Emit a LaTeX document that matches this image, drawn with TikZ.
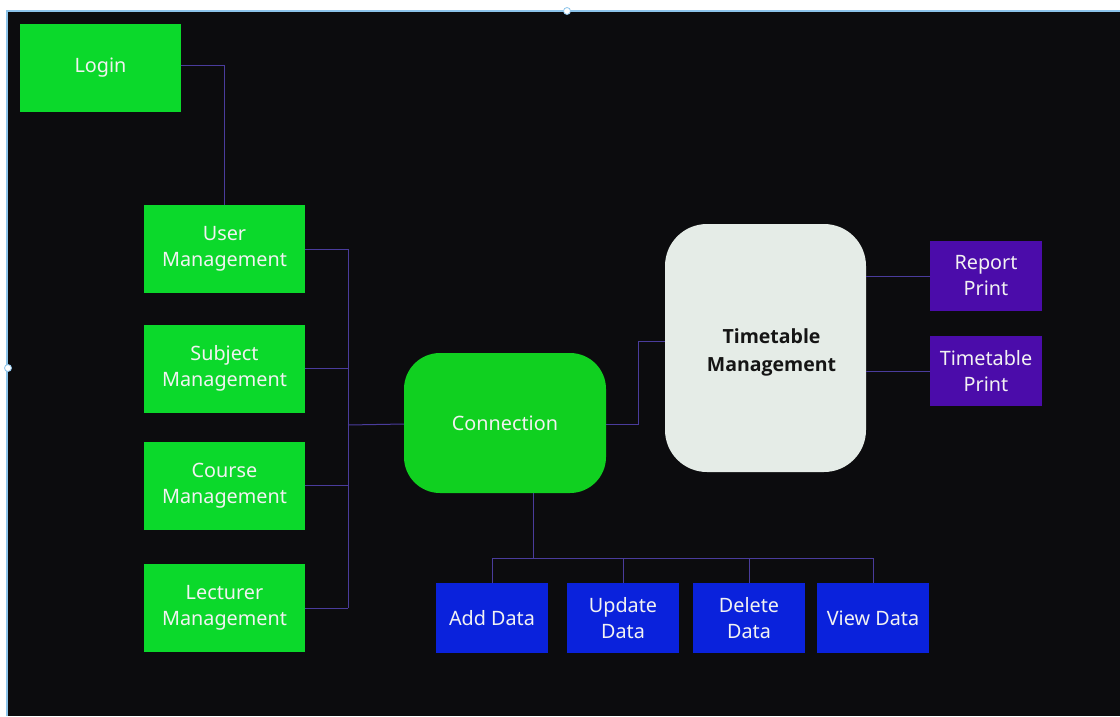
\documentclass[tikz,border=0pt]{standalone}
\usepackage{fontspec}
\setmainfont{Noto Sans}
\newfontfamily\headfont{Open Sans}
\definecolor{canvas}{HTML}{0C0C0E}
\definecolor{mgreen}{HTML}{0BD92B}
\definecolor{cgreen}{HTML}{10D020}
\definecolor{ttfill}{HTML}{E5ECE7}
\definecolor{pviolet}{HTML}{4B0CAA}
\definecolor{dblue}{HTML}{0A22DC}
\definecolor{wirec}{HTML}{4A3C9C}
\definecolor{framec}{HTML}{8CC4EA}
\definecolor{ltext}{HTML}{F2F2F2}
\definecolor{dtext}{HTML}{151515}
\begin{document}
\begin{tikzpicture}[x=1pt,y=-1pt,
  box/.style={draw=none, inner sep=0pt, align=center, text=ltext,
    font=\fontsize{19.8}{26}\selectfont},
  modbox/.style={box, fill=mgreen, minimum width=161pt, minimum height=88pt},
  hubbox/.style={box, fill=cgreen, minimum width=202pt, minimum height=140pt, rounded corners=36pt},
  ttbox/.style={box, fill=ttfill, minimum width=201pt, minimum height=248pt,
    rounded corners=42pt},
  tttext/.style={text=dtext, align=center, inner sep=0pt,
    font=\headfont\bfseries\fontsize{19.5}{28}\selectfont},
  printbox/.style={box, fill=pviolet, minimum width=112pt, minimum height=70pt},
  databox/.style={box, fill=dblue, minimum width=112pt, minimum height=70pt},
  wire/.style={draw=wirec, line width=1pt},
  handle/.style={circle, fill=white, draw=framec, line width=0.8pt, inner sep=0pt, minimum size=7pt}
]
\useasboundingbox (0,0) rectangle (1120,716);
% page and dark canvas with selection frame
\fill[white] (0,0) rectangle (1120,716);
\fill[canvas] (7,11) rectangle (1120,716);
\draw[framec, line width=2pt] (7,716) -- (7,11) -- (1120,11);
\node[handle] (h1) at (567,11) {};
\node[handle] (h2) at (8,368) {};

% left column
\node[modbox] (login) at (100.5,68) {Login};
\node[modbox] (user) at (224.5,249) {User\\Management};
\node[modbox] (subj) at (224.5,368.5) {Subject\\Management};
\node[modbox] (course) at (224.5,485.5) {Course\\Management};
\node[modbox] (lect) at (224.5,608) {Lecturer\\Management};

% hub and timetable
\node[hubbox] (conn) at (505,423) {Connection};
\node[ttbox] (tt) at (765.5,348) {};
\node[tttext] (ttlabel) at (771.5,352) {Timetable\\Management};

% print outputs
\node[printbox] (report) at (986,276) {Report\\Print};
\node[printbox] (tprint) at (986,371) {Timetable\\Print};

% data operations
\node[databox] (add) at (492,618) {Add Data};
\node[databox] (upd) at (623,618) {Update\\Data};
\node[databox] (del) at (749,618) {Delete\\Data};
\node[databox] (view) at (873,618) {View Data};

% connectors
\draw[wire] ([yshift=3pt]login.east) -| (user.north);
\draw[wire] (user.east) -- ++(43,0) coordinate (bt);
\draw[wire] (lect.east) -- ++(43,0) coordinate (bb);
\draw[wire] (bt) -- (bb);
\draw[wire] (subj.east) -- ++(43,0);
\draw[wire] (course.east) -- ++(43,0);
\coordinate (bj) at (348,425);
\draw[wire] (bj) -- ([yshift=-1pt]conn.west);
\draw[wire] ([yshift=-1pt]conn.east) -- ++(32,0) |- ([yshift=7pt]tt.west);
\draw[wire] (report.west) -- (report.west -| tt.east);
\draw[wire] (tprint.west) -- (tprint.west -| tt.east);
\draw[wire] ([xshift=28pt]conn.south) -- ++(0,65);
\draw[wire] (add.north) -- ++(0,-24) -| (view.north);
\draw[wire] (upd.north) -- ++(0,-24);
\draw[wire] (del.north) -- ++(0,-24);
\end{tikzpicture}
\end{document}
